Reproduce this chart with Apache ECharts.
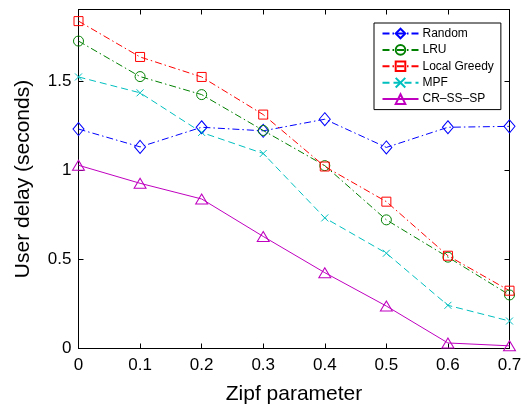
<!DOCTYPE html>
<html>
<head>
<meta charset="utf-8">
<script src="https://cdn.jsdelivr.net/npm/echarts@6/dist/echarts.min.js"></script>
<style>html,body{margin:0;padding:0;background:#fff}#c{width:527px;height:406px}</style>
</head>
<body>
<div id="c"></div>
<script>
var zipf = [0, 0.1, 0.2, 0.3, 0.4, 0.5, 0.6, 0.7];
var xTicks = [0, 0.1, 0.2, 0.3, 0.4, 0.5, 0.6, 0.7];
var yTicks = [0, 0.5, 1, 1.5];
var seriesNames = ['Random', 'LRU', 'Local Greedy', 'MPF', 'CR\u2013SS\u2013SP'];
var randomVals = [1.23, 1.13, 1.24, 1.22, 1.285, 1.127, 1.24, 1.245];
var lruVals = [1.723, 1.524, 1.423, 1.222, 1.025, 0.721, 0.512, 0.30];
var greedyVals = [1.835, 1.634, 1.522, 1.311, 1.02, 0.823, 0.52, 0.324];
var mpfVals = [1.522, 1.433, 1.211, 1.093, 0.732, 0.534, 0.242, 0.154];
var crVals = [1.027, 0.926, 0.838, 0.628, 0.425, 0.238, 0.031, 0.015];

var FONT = "'Liberation Sans', Arial, Helvetica, sans-serif";
function pairs(v) { return zipf.map(function (x, i) { return [x, v[i]]; }); }
var X_PATH = 'path://M0,0L10,10M10,0L0,10';
function mk(name, vals, color, symbol, size, dash) {
  return {
    name: name, type: 'line', data: pairs(vals),
    symbol: symbol, symbolSize: size, showSymbol: true,
    lineStyle: { color: color, width: 1, type: dash },
    itemStyle: { color: 'rgba(0,0,0,0)', borderColor: color, borderWidth: 1 },
    emphasis: { disabled: true }, animation: false, z: 3
  };
}
var dashDot = [7, 3, 1.5, 3];
var chart = echarts.init(document.getElementById('c'), null, { renderer: 'canvas' });
var axisCommon = {
  type: 'value', splitLine: { show: false },
  axisLine: { show: true, onZero: false, lineStyle: { color: '#000', width: 1 } },
  axisTick: { show: true, inside: true, length: 5, lineStyle: { color: '#000' } }
};
chart.setOption({
  animation: false,
  textStyle: { fontFamily: FONT },
  grid: { left: 78.5, right: 17.5, top: 9.5, bottom: 57.5, containLabel: false, outerBoundsMode: 'none' },
  legend: {
    orient: 'vertical', left: 374, top: 23,
    data: seriesNames,
    backgroundColor: '#fff', borderColor: '#000', borderWidth: 1, borderRadius: 0,
    padding: [4.5, 7, 4.5, 7.5], itemGap: 4.4, itemWidth: 36, itemHeight: 12,
    textStyle: { fontSize: 12, color: '#000', fontFamily: FONT, padding: [0, 0, 0, -1] }
  },
  xAxis: [
    Object.assign({}, axisCommon, {
      min: 0, max: 0.7, interval: 0.1, position: 'bottom',
      name: 'Zipf parameter', nameLocation: 'middle', nameGap: 35,
      nameTextStyle: { fontSize: 21, color: '#000', fontFamily: FONT },
      axisLabel: { fontSize: 17, color: '#000', margin: 8, fontFamily: FONT,
        formatter: function (v) { return String(+v.toFixed(1)); } }
    }),
    Object.assign({}, axisCommon, {
      min: 0, max: 0.7, interval: 0.1, position: 'top', axisLabel: { show: false }
    })
  ],
  yAxis: [
    Object.assign({}, axisCommon, {
      min: 0, max: 1.9, interval: 0.5, position: 'left',
      name: 'User delay (seconds)', nameLocation: 'middle', nameGap: 45,
      nameTextStyle: { fontSize: 21, color: '#000', fontFamily: FONT },
      axisLabel: { fontSize: 17, color: '#000', margin: 7, fontFamily: FONT,
        formatter: function (v) {
          var r = Math.round(v * 10) / 10;
          return yTicks.indexOf(r) >= 0 ? String(r) : '';
        } }
    }),
    Object.assign({}, axisCommon, {
      min: 0, max: 1.9, interval: 0.5, position: 'right', axisLabel: { show: false }
    })
  ],
  series: [
    mk(seriesNames[0], randomVals, '#0000ff', 'diamond', [11, 13], dashDot),
    mk(seriesNames[1], lruVals, '#008000', 'circle', 10, dashDot),
    mk(seriesNames[2], greedyVals, '#ff0000', 'rect', 9, dashDot),
    mk(seriesNames[3], mpfVals, '#00bfbf', X_PATH, 7, [7, 4]),
    mk(seriesNames[4], crVals, '#bf00bf', 'triangle', [12, 10], 'solid')
  ]
});
</script>
</body>
</html>
